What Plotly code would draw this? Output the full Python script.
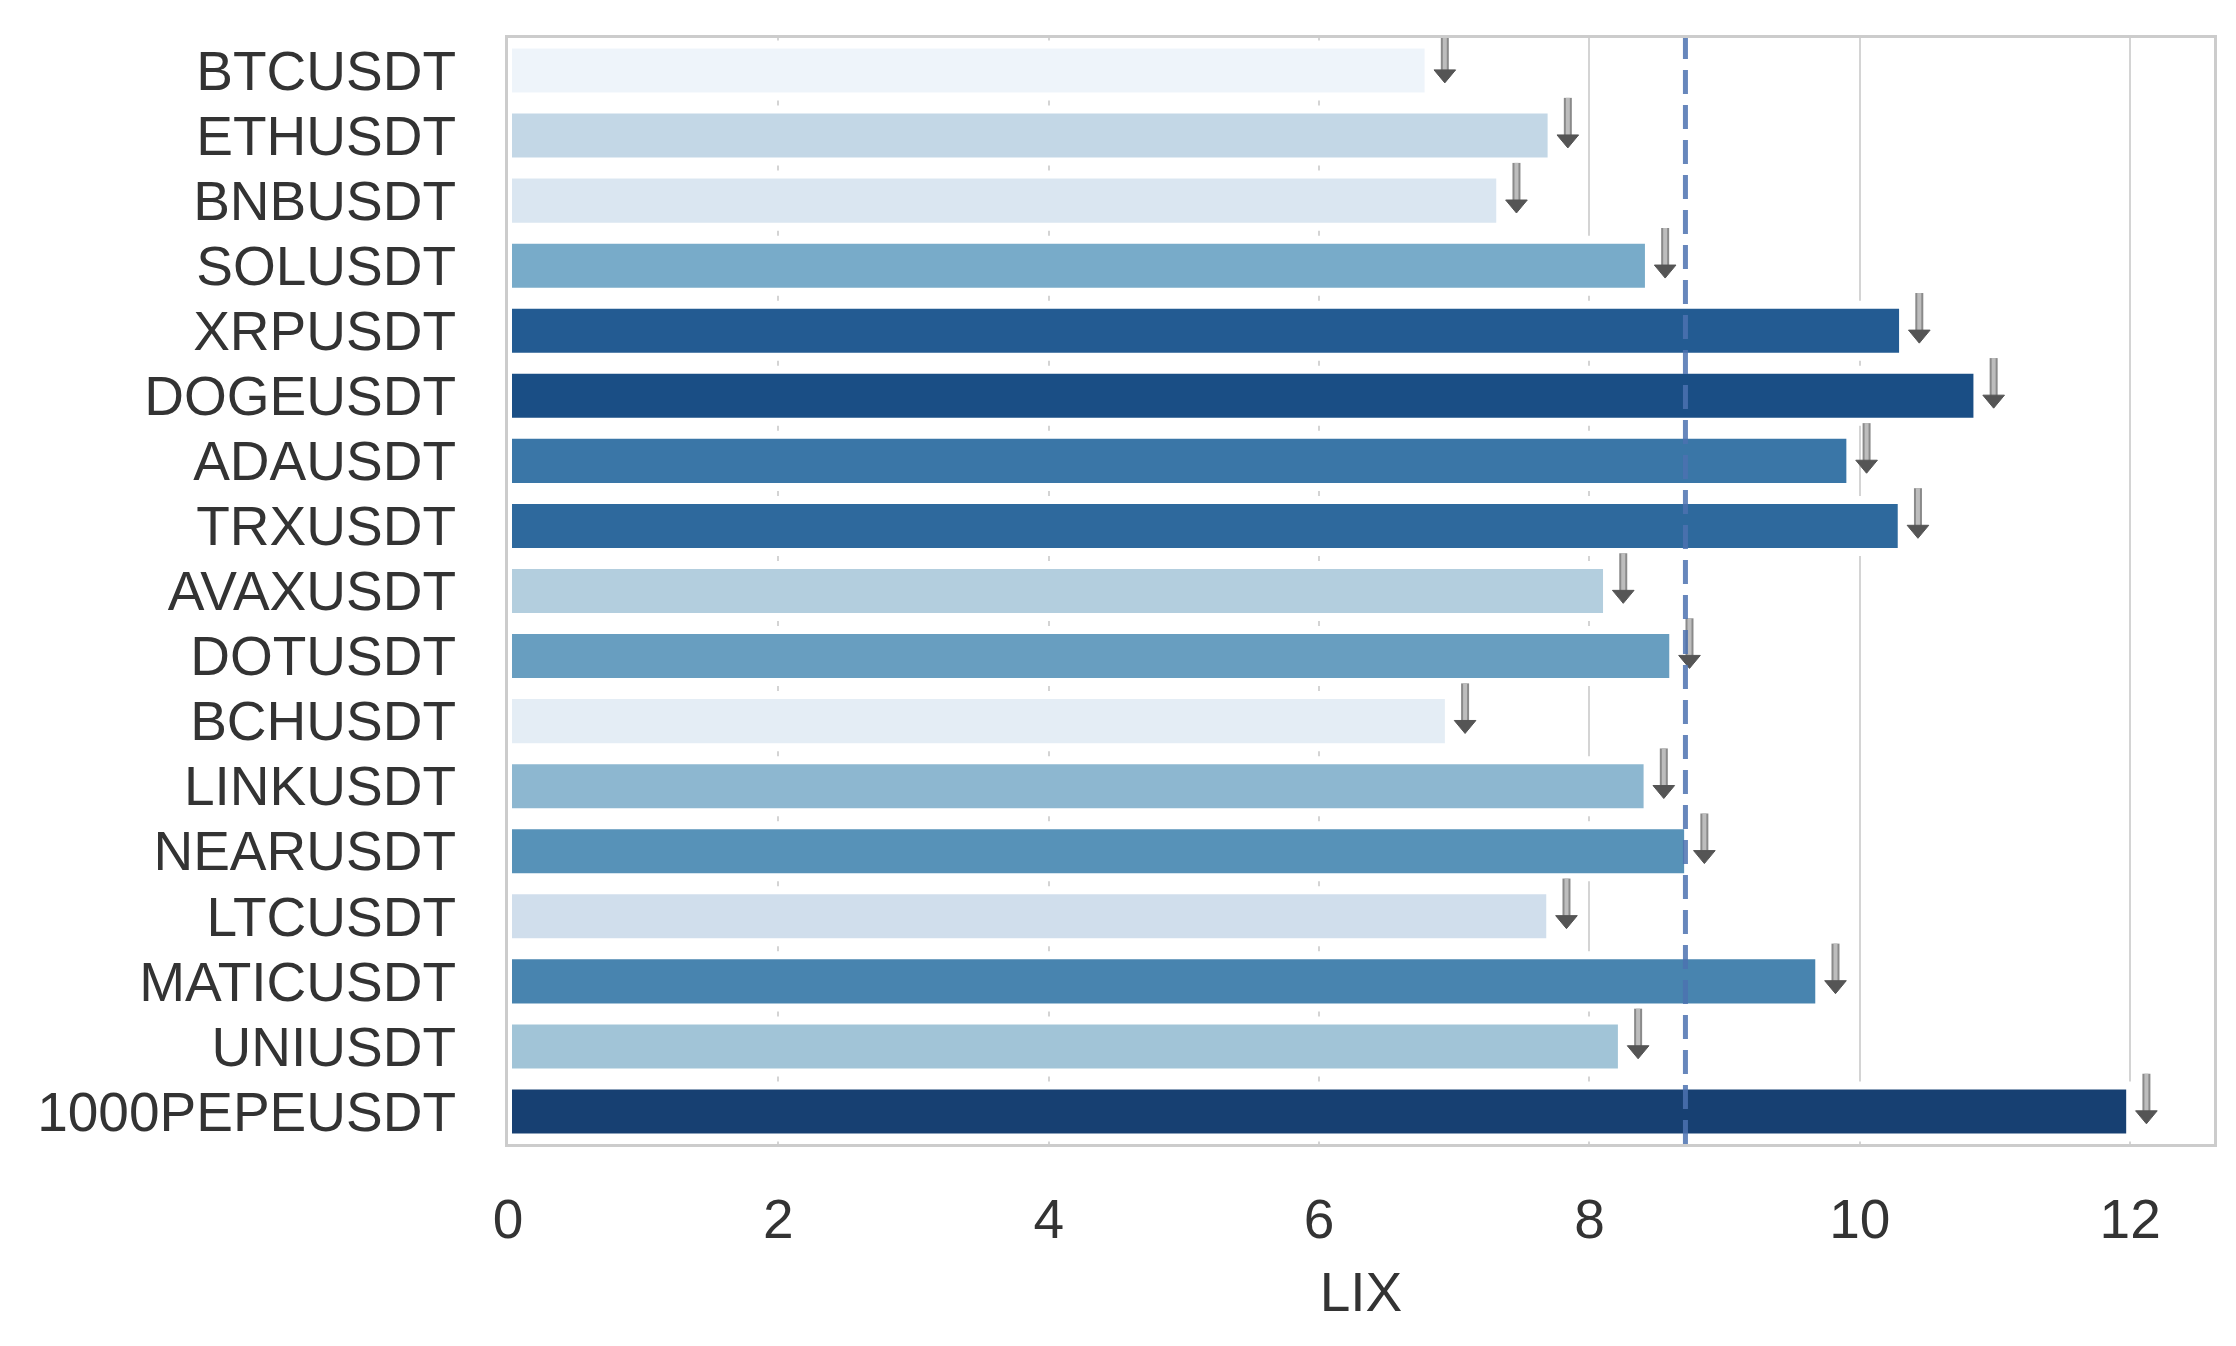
import colorsys
import numpy as np
import plotly.graph_objects as go

# ---- data ----
symbols = ["BTCUSDT", "ETHUSDT", "BNBUSDT", "SOLUSDT", "XRPUSDT", "DOGEUSDT",
           "ADAUSDT", "TRXUSDT", "AVAXUSDT", "DOTUSDT", "BCHUSDT", "LINKUSDT",
           "NEARUSDT", "LTCUSDT", "MATICUSDT", "UNIUSDT", "1000PEPEUSDT"]
lix = [6.81, 7.72, 7.34, 8.44, 10.32, 10.87, 9.93, 10.31, 8.13, 8.62, 6.96,
       8.43, 8.73, 7.71, 9.70, 8.24, 12.00]
ref_line = 8.71
x_ticks = [0, 2, 4, 6, 8, 10, 12]
x_title = "LIX"

# ---- style ----
BLUES = ["#f7fbff", "#deebf7", "#c6dbef", "#9ecae1", "#6baed6",
         "#4292c6", "#2171b5", "#08519c", "#08306b"]
SATURATION = 0.75
FONT = "Liberation Sans, Arial, sans-serif"
TEXT_COLOR = "#333333"
FS = 55


def hex_to_rgb(h):
    h = h.lstrip("#")
    return np.array([int(h[i:i + 2], 16) for i in (0, 2, 4)], dtype=float) / 255


def blues(t):
    pos = np.linspace(0, 1, len(BLUES))
    cols = np.array([hex_to_rgb(c) for c in BLUES])
    return np.array([np.interp(t, pos, cols[:, k]) for k in range(3)])


def desaturate(rgb, prop):
    h, l, s = colorsys.rgb_to_hls(*rgb)
    r, g, b = colorsys.hls_to_rgb(h, l, s * prop)
    return "rgb(%d,%d,%d)" % (round(r * 255), round(g * 255), round(b * 255))


n = len(symbols)
ranks = np.argsort(np.argsort(lix))
colors = [desaturate(blues((r + 1) / (n + 1)), SATURATION) for r in ranks]
ypos = list(range(n))

fig = go.Figure()
fig.add_trace(go.Bar(
    y=ypos, x=lix, orientation="h", width=0.8,
    marker=dict(color=colors, line=dict(color="white", width=8)),
    showlegend=False, hoverinfo="skip",
))

# arrows to the right of each bar
ARROW_DX = 0.12
sx, sy, hx, hy = [], [], [], []
for i, v in enumerate(lix):
    ax = v + ARROW_DX
    sx += [ax, ax, None]
    sy += [i - 0.58, i + 0.02, None]
    hx += [ax - 0.08, ax + 0.08, ax, ax - 0.08, None]
    hy += [i - 0.01, i - 0.01, i + 0.19, i - 0.01, None]

fig.add_trace(go.Scatter(x=sx, y=sy, mode="lines",
                         line=dict(color="#8a8a8a", width=8),
                         showlegend=False, hoverinfo="skip"))
fig.add_trace(go.Scatter(x=sx, y=sy, mode="lines",
                         line=dict(color="#bdbdbd", width=4),
                         showlegend=False, hoverinfo="skip"))
fig.add_trace(go.Scatter(x=hx, y=hy, mode="lines", fill="toself",
                         fillcolor="#555555", line=dict(color="#555555", width=1),
                         showlegend=False, hoverinfo="skip"))

fig.add_shape(type="line", xref="x", yref="paper", x0=ref_line, x1=ref_line,
              y0=0, y1=1, line=dict(color="rgba(76,114,176,0.85)", width=5,
                                    dash="24px,11px"), layer="above")

# page body has an 8px margin: size the figure so it fits the viewport
fig.update_layout(
    width=2228, height=1338,
    margin=dict(l=500, r=22, t=30, b=202, pad=0),
    paper_bgcolor="white", plot_bgcolor="white",
    font=dict(family=FONT, size=FS, color=TEXT_COLOR),
)
fig.update_xaxes(
    range=[0, 12.62], tickvals=x_ticks, ticktext=[str(t) for t in x_ticks],
    showgrid=True, gridcolor="#d4d4d4", gridwidth=2, zeroline=False,
    showline=True, linecolor="#cccccc", linewidth=3, mirror=True,
    ticks="", ticklabelstandoff=25,
    title=dict(text=x_title, font=dict(size=FS, color=TEXT_COLOR), standoff=24),
    tickfont=dict(size=FS, color=TEXT_COLOR),
)
fig.update_yaxes(
    range=[n - 0.5, -0.5], tickvals=ypos, ticktext=symbols,
    showgrid=False, zeroline=False,
    showline=True, linecolor="#cccccc", linewidth=3, mirror=True,
    ticks="", ticklabelstandoff=38,
    tickfont=dict(size=FS, color=TEXT_COLOR),
)

fig.write_html("out.html")
